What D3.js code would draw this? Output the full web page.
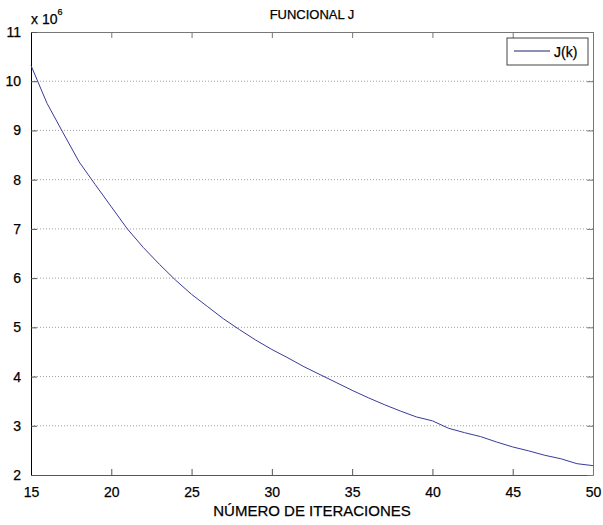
<!DOCTYPE html>
<html>
<head>
<meta charset="utf-8">
<script src="https://cdn.jsdelivr.net/npm/d3@7"></script>
<style>
  body { margin: 0; background: #fff; }
  svg { font-family: "Liberation Sans", Arial, sans-serif; }
  svg text { stroke: #000; stroke-width: 0.25px; }
</style>
</head>
<body>
<svg id="chart" width="603" height="525"></svg>
<script>
// iteration numbers and functional values (x 10^6)
const iterations = d3.range(15, 51);
const jValues = [
  10.32, 9.55, 8.95, 8.36, 7.90, 7.45, 7.00, 6.62, 6.28, 5.96,
  5.67, 5.42, 5.17, 4.95, 4.74, 4.55, 4.38, 4.20, 4.04, 3.88,
  3.72, 3.57, 3.43, 3.30, 3.18, 3.10, 2.95, 2.86, 2.78, 2.67,
  2.57, 2.49, 2.40, 2.33, 2.23, 2.19
];
const xTicks = [15, 20, 25, 30, 35, 40, 45, 50];
const yTicks = [2, 3, 4, 5, 6, 7, 8, 9, 10, 11];

const plotLeft = 31, plotRight = 593, plotTop = 32, plotBottom = 475;
const lineColor = '#3a3a9c';

const svg = d3.select('#chart');
const x = d3.scaleLinear().domain([15, 50]).range([plotLeft, plotRight]);
const y = d3.scaleLinear().domain([2, 11]).range([plotBottom, plotTop]);

// dotted horizontal grid
svg.append('g')
  .selectAll('line')
  .data(yTicks.slice(1, -1))
  .join('line')
  .attr('x1', plotLeft).attr('x2', plotRight)
  .attr('y1', d => y(d)).attr('y2', d => y(d))
  .attr('stroke', '#a0a0a0')
  .attr('stroke-width', 1)
  .attr('stroke-dasharray', '1,2');

// axes
const tickFont = g => g.selectAll('text')
  .attr('font-size', 14).attr('fill', '#000');

svg.append('g')
  .attr('transform', `translate(0,${plotBottom})`)
  .call(d3.axisBottom(x).tickValues(xTicks).tickSize(-6).tickPadding(12).tickSizeOuter(0))
  .call(g => g.select('.domain').attr('stroke', '#555'))
  .call(g => g.selectAll('.tick line').attr('stroke', '#555'))
  .call(tickFont);

svg.append('g')
  .attr('transform', `translate(0,${plotTop})`)
  .call(d3.axisTop(x).tickValues(xTicks).tickSize(-6).tickFormat('').tickSizeOuter(0))
  .call(g => g.select('.domain').attr('stroke', '#777'))
  .call(g => g.selectAll('.tick line').attr('stroke', '#777'));

svg.append('g')
  .attr('transform', `translate(${plotLeft},0)`)
  .call(d3.axisLeft(y).tickValues(yTicks).tickSize(-6).tickPadding(10).tickSizeOuter(0))
  .call(g => g.select('.domain').attr('stroke', '#000'))
  .call(g => g.selectAll('.tick line').attr('stroke', '#555'))
  .call(tickFont);

svg.append('g')
  .attr('transform', `translate(${plotRight},0)`)
  .call(d3.axisRight(y).tickValues(yTicks).tickSize(-6).tickFormat('').tickSizeOuter(0))
  .call(g => g.select('.domain').attr('stroke', '#777'))
  .call(g => g.selectAll('.tick line').attr('stroke', '#777'));

// the curve
const line = d3.line()
  .x((d, i) => x(iterations[i]))
  .y(d => y(d));

svg.append('path')
  .datum(jValues)
  .attr('d', line)
  .attr('fill', 'none')
  .attr('stroke', lineColor)
  .attr('stroke-width', 1);

// exponent label
const expo = svg.append('text')
  .attr('x', 31).attr('y', 24)
  .attr('font-size', 14).attr('fill', '#000');
expo.append('tspan').text('x 10');
expo.append('tspan').attr('dy', -9).attr('font-size', 9).text('6');

// title and x label
svg.append('text')
  .attr('x', 312).attr('y', 19)
  .attr('text-anchor', 'middle')
  .attr('font-size', 13).attr('fill', '#000')
  .text('FUNCIONAL J');

svg.append('text')
  .attr('x', 312).attr('y', 516)
  .attr('text-anchor', 'middle')
  .attr('font-size', 15).attr('fill', '#000')
  .text('NÚMERO DE ITERACIONES');

// legend
const legend = svg.append('g');
legend.append('rect')
  .attr('x', 507).attr('y', 38).attr('width', 81).attr('height', 27)
  .attr('fill', '#fff').attr('stroke', '#444');
legend.append('line')
  .attr('x1', 514).attr('x2', 550).attr('y1', 51).attr('y2', 51)
  .attr('stroke', '#1e1e6e');
legend.append('text')
  .attr('x', 554).attr('y', 57)
  .attr('font-size', 14).attr('fill', '#000')
  .text('J(k)');
</script>
</body>
</html>
